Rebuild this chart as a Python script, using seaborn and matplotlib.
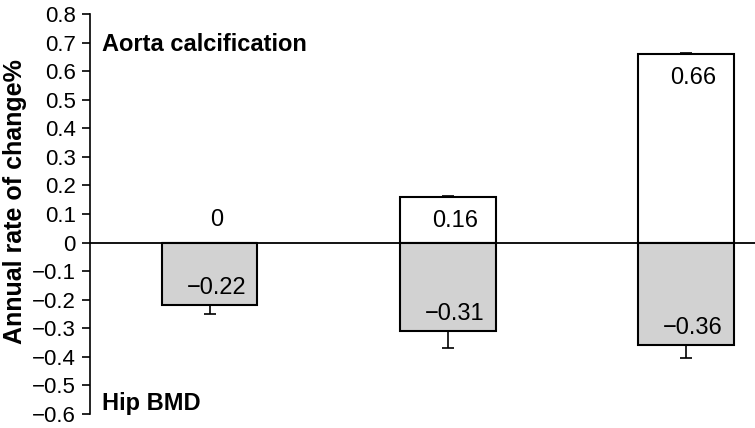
import pandas as pd
import matplotlib.pyplot as plt
import seaborn as sns
import numpy as np

groups = ['G1', 'G2', 'G3']
aorta = [0.0, 0.16, 0.66]
aorta_err = [0.0, 0.003, 0.005]
hip = [-0.22, -0.31, -0.36]
hip_err = [0.03, 0.06, 0.045]
aorta_labels = ['0', '0.16', '0.66']
hip_labels = ['\u22120.22', '\u22120.31', '\u22120.36']
yticks = [-0.6, -0.5, -0.4, -0.3, -0.2, -0.1, 0, 0.1, 0.2, 0.3, 0.4, 0.5, 0.6, 0.7, 0.8]

sns.set_theme(style='white')
plt.rcParams['font.family'] = ['Liberation Sans', 'DejaVu Sans']
plt.rcParams['text.color'] = 'black'
plt.rcParams['axes.labelcolor'] = 'black'
plt.rcParams['ytick.color'] = 'black'

df = pd.DataFrame({'group': groups, 'aorta': aorta, 'hip': hip})

fig = plt.figure(figsize=(7.55, 4.28), dpi=100)
ax = fig.add_axes([0.119, 0.033, 0.881, 0.934])

# white bars (aorta) and gray bars (hip BMD) share the same positions
sns.barplot(data=df, x='group', y='aorta', color='white', edgecolor='black',
            linewidth=1.5, width=0.4, saturation=1, errorbar=None, ax=ax)
sns.barplot(data=df, x='group', y='hip', color='#d2d2d2', edgecolor='black',
            linewidth=1.5, width=0.4, saturation=1, errorbar=None, ax=ax)

x = np.arange(len(groups))
# one-sided error bars
ax.errorbar(x, aorta, yerr=[np.zeros(3), aorta_err], fmt='none', ecolor='black',
            elinewidth=1.2, capsize=4.5, capthick=1.2)
ax.errorbar(x, hip, yerr=[hip_err, np.zeros(3)], fmt='none', ecolor='black',
            elinewidth=1.2, capsize=4.5, capthick=1.2)

ax.axhline(0, color='black', lw=1.3, zorder=5)

# value labels
for i in range(len(groups)):
    if aorta[i] > 0:
        ax.text(i + 0.03, aorta[i] - 0.085, aorta_labels[i], ha='center', va='center', fontsize=17)
    else:
        ax.text(i + 0.03, 0.08, aorta_labels[i], ha='center', va='center', fontsize=17)
    ax.text(i + 0.03, hip[i] + 0.06, hip_labels[i], ha='center', va='center', fontsize=17)

ax.text(0.019, 0.925, 'Aorta calcification', transform=ax.transAxes,
        fontsize=17, fontweight='bold', va='center')
ax.text(0.019, 0.025, 'Hip BMD', transform=ax.transAxes,
        fontsize=17, fontweight='bold', va='center')

ax.set_ylim(-0.6, 0.8)
ax.set_xlim(-0.504, 2.29)
ax.set_yticks(yticks)
ax.set_yticklabels([('\u2212' if v < 0 else '') + ('0' if v == 0 else f'{abs(v):.1f}')
                    for v in yticks], fontsize=16)
ax.set_xticks([])
ax.set_xlabel('')
ax.set_ylabel('Annual rate of change%', fontsize=18, fontweight='bold')
ax.yaxis.set_label_coords(-0.094, 0.532)
ax.tick_params(axis='y', direction='out', length=6, width=1.2, left=True, pad=4)

sns.despine(ax=ax, top=True, right=True, bottom=True)
ax.spines['left'].set_color('black')
ax.spines['left'].set_linewidth(1.2)

fig.savefig('out.png', dpi=100)
